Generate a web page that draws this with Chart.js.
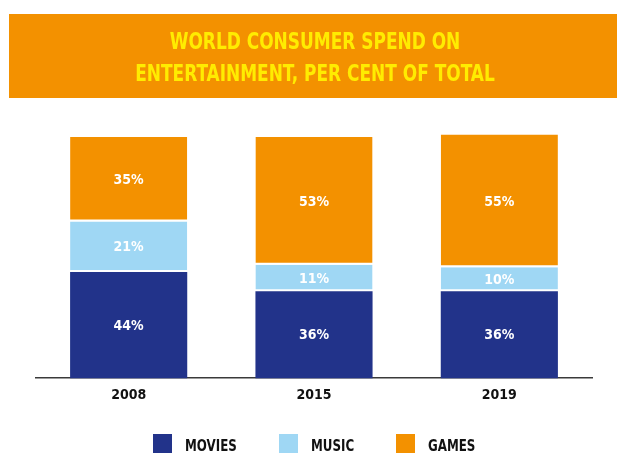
<!DOCTYPE html>
<html>
<head>
<meta charset="utf-8">
<script src="https://cdn.jsdelivr.net/npm/chart.js@4.4.1/dist/chart.umd.min.js"></script>
<style>
    html, body { margin: 0; padding: 0; background: #fff; overflow: hidden; }
    #wrap { position: relative; width: 617px; height: 453px; }
    #legend {
        position: absolute; left: 36px; width: 556px; top: 434px; height: 19px;
        display: flex; justify-content: center; align-items: center;
        font-family: 'DejaVu Sans Condensed', sans-serif;
        font-weight: bold; font-size: 15px; color: #111;
    }
    #legend .item { display: flex; align-items: center; margin: 0 21px; }
    #legend .box { width: 19px; height: 19px; margin-right: 13px; }
    #legend span { display: inline-block; position: relative; top: 2px; transform: scaleX(0.88); transform-origin: left center; }
</style>
</head>
<body>
<div id="wrap">
    <canvas id="chart" width="617" height="453"></canvas>
    <div id="legend"></div>
</div>
<script>
const years = ['2008', '2015', '2019'];
const movies = [44, 36, 36];
const music = [21, 11, 10];
const games = [35, 53, 55];
const seriesNames = ['MOVIES', 'MUSIC', 'GAMES'];
const seriesColors = ['#22338a', '#9fd7f4', '#f39100'];
const titleLines = ['WORLD CONSUMER SPEND ON', 'ENTERTAINMENT, PER CENT OF TOTAL'];

// orange banner with the two title lines, squeezed a little horizontally
const banner = {
    id: 'banner',
    beforeDraw(chart) {
        const c = chart.ctx;
        c.save();
        c.fillStyle = '#f39100';
        c.fillRect(9, 14, 608, 84);
        c.fillStyle = '#ffec00';
        c.font = 'bold 23px "DejaVu Sans Condensed", sans-serif';
        c.textAlign = 'center';
        c.textBaseline = 'alphabetic';
        c.translate(315, 0);
        c.scale(0.82, 1);
        c.fillText(titleLines[0], 0, 48.5);
        c.fillText(titleLines[1], 0, 80.5);
        c.restore();
    }
};

// percentage printed in the middle of every segment
const segmentLabels = {
    id: 'segmentLabels',
    afterDatasetsDraw(chart) {
        const c = chart.ctx;
        c.save();
        c.fillStyle = '#fff';
        c.font = 'bold 14px "DejaVu Sans Condensed", sans-serif';
        c.textAlign = 'center';
        c.textBaseline = 'middle';
        chart.data.datasets.forEach((ds, i) => {
            chart.getDatasetMeta(i).data.forEach((bar, j) => {
                const {x, y, base} = bar.getProps(['x', 'y', 'base'], true);
                c.fillText(ds.data[j] + '%', x, (y + base) / 2 + 1);
            });
        });
        c.restore();
    }
};

// white gap under the upper segments so the stack reads as separate blocks
const makeSet = (label, data, color, gap) => ({
    label: label,
    data: data,
    backgroundColor: color,
    borderColor: '#fff',
    borderWidth: {top: 0, left: 0, right: 0, bottom: gap},
    borderSkipped: false,
    clip: false
});

const chart = new Chart(document.getElementById('chart'), {
    type: 'bar',
    data: {
        labels: years,
        datasets: [
            makeSet(seriesNames[0], movies, seriesColors[0], 0),
            makeSet(seriesNames[1], music, seriesColors[1], 2),
            makeSet(seriesNames[2], games, seriesColors[2], 2)
        ]
    },
    options: {
        responsive: false,
        animation: false,
        barPercentage: 0.632,
        categoryPercentage: 1,
        layout: {
            padding: {top: 137, left: 36, right: 25, bottom: 40}
        },
        plugins: {
            legend: {display: false},
            tooltip: {enabled: false}
        },
        scales: {
            x: {
                stacked: true,
                grid: {display: false, drawTicks: false},
                border: {display: true, color: '#3a3a3a', width: 1.5},
                ticks: {
                    color: '#111',
                    padding: 9,
                    font: {family: '"DejaVu Sans Condensed", sans-serif', size: 14, weight: 'bold'}
                }
            },
            y: {
                stacked: true,
                display: false,
                min: 0,
                max: 100
            }
        }
    },
    plugins: [banner, segmentLabels]
});

// legend row under the chart
const legend = document.getElementById('legend');
seriesNames.forEach((name, i) => {
    const item = document.createElement('div');
    item.className = 'item';
    const box = document.createElement('div');
    box.className = 'box';
    box.style.background = seriesColors[i];
    const text = document.createElement('span');
    text.textContent = name;
    item.appendChild(box);
    item.appendChild(text);
    legend.appendChild(item);
    // scaleX does not shrink the layout box, so give back the unused width
    text.style.marginRight = -(text.offsetWidth * 0.12) + 'px';
});
</script>
</body>
</html>
